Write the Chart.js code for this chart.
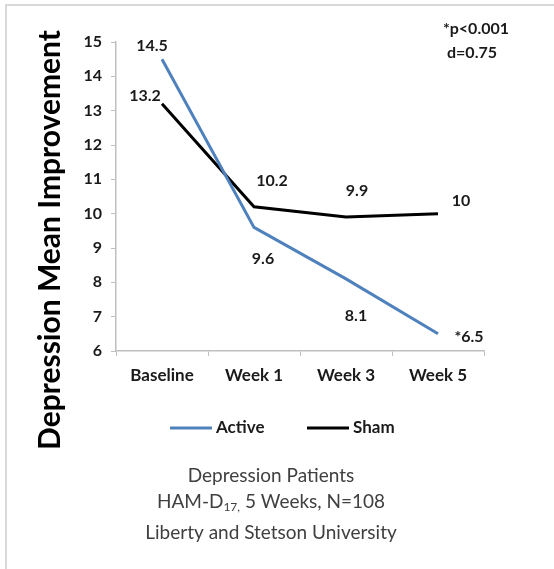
<!DOCTYPE html>
<html>
<head>
<meta charset="utf-8">
<script src="https://cdn.jsdelivr.net/npm/chart.js@4.4.1/dist/chart.umd.min.js"></script>
<style>
  html, body { margin: 0; padding: 0; background: #fff; }
  #wrap { width: 554px; height: 569px; }
</style>
</head>
<body>
<div id="wrap"><canvas id="chart" width="554" height="569"></canvas></div>
<script>
// data
const weeks = ["Baseline", "Week 1", "Week 3", "Week 5"];
const activeScores = [14.5, 9.6, 8.1, 6.5];
const shamScores = [13.2, 10.2, 9.9, 10];
const activeLabels = ["14.5", "9.6", "8.1", "*6.5"];
const shamLabels = ["13.2", "10.2", "9.9", "10"];
const yTicks = [6, 7, 8, 9, 10, 11, 12, 13, 14, 15];
const captionLines = ["Depression Patients", "HAM-D17, 5 Weeks, N=108", "Liberty and Stetson University"];
const statNotes = ["*p<0.001", "d=0.75"];

const FONT = "Lato, 'Open Sans', sans-serif";
const blue = "#4f81bd";

// where each value label sits relative to its point
const activeOffsets = [[-10, -13], [9, 31], [10, 37], [31, 3]];
const shamOffsets = [[-17, -8], [18, -26], [11, -26], [23, -13]];

const extras = {
  id: "extras",
  beforeDraw(chart) {
    const ctx = chart.ctx;
    ctx.save();
    ctx.strokeStyle = "#d9d9d9";
    ctx.lineWidth = 2;
    ctx.strokeRect(6, 5, 600, 620);
    ctx.restore();
  },
  afterDatasetsDraw(chart) {
    const ctx = chart.ctx;
    ctx.save();
    ctx.fillStyle = "#1a1a1a";
    ctx.font = "bold 16px " + FONT;
    ctx.textAlign = "center";
    ctx.textBaseline = "middle";
    const sets = [[0, activeLabels, activeOffsets], [1, shamLabels, shamOffsets]];
    sets.forEach(([i, labels, offs]) => {
      chart.getDatasetMeta(i).data.forEach((pt, j) => {
        ctx.fillText(labels[j], pt.x + offs[j][0], pt.y + offs[j][1]);
      });
    });

    // stats note top right
    ctx.fillText(statNotes[0], 476, 29);
    ctx.fillText(statNotes[1], 472, 53);

    // y title
    ctx.save();
    ctx.translate(50, 240);
    ctx.rotate(-Math.PI / 2);
    ctx.font = "bold 30px " + FONT;
    ctx.fillStyle = "#000";
    ctx.fillText("Depression Mean Improvement", 0, 0);
    ctx.restore();

    // legend
    ctx.font = "bold 17px " + FONT;
    ctx.textAlign = "left";
    const items = [[170, chart.data.datasets[0]], [307, chart.data.datasets[1]]];
    items.forEach(([x, ds]) => {
      ctx.strokeStyle = ds.borderColor;
      ctx.lineWidth = 3;
      ctx.beginPath();
      ctx.moveTo(x, 428);
      ctx.lineTo(x + 42, 428);
      ctx.stroke();
      ctx.fillStyle = "#1a1a1a";
      ctx.fillText(ds.label, x + 46, 428);
    });

    // caption
    ctx.fillStyle = "#404040";
    ctx.textAlign = "center";
    ctx.font = "19px " + FONT;
    ctx.fillText(captionLines[0], 271, 476);
    ctx.fillText(captionLines[2], 271, 533);
    // HAM-D with subscript 17,
    const parts = captionLines[1].split("17,");
    ctx.font = "19px " + FONT;
    const w0 = ctx.measureText(parts[0]).width;
    const w2 = ctx.measureText(parts[1]).width;
    ctx.font = "12px " + FONT;
    const w1 = ctx.measureText("17,").width;
    let x = 271 - (w0 + w1 + w2) / 2;
    ctx.textAlign = "left";
    ctx.font = "19px " + FONT;
    ctx.fillText(parts[0], x, 502);
    ctx.font = "12px " + FONT;
    ctx.fillText("17,", x + w0, 507);
    ctx.font = "19px " + FONT;
    ctx.fillText(parts[1], x + w0 + w1, 502);
    ctx.restore();
  }
};

new Chart(document.getElementById("chart"), {
  type: "line",
  data: {
    labels: weeks,
    datasets: [
      {
        label: "Active",
        data: activeScores,
        borderColor: blue,
        borderWidth: 3,
        pointRadius: 0,
        tension: 0,
      },
      {
        label: "Sham",
        data: shamScores,
        borderColor: "#000000",
        borderWidth: 3,
        pointRadius: 0,
        tension: 0,
      },
    ],
  },
  options: {
    responsive: false,
    animation: false,
    events: [],
    layout: { padding: { left: 0, top: 42, right: 70, bottom: 178 } },
    plugins: {
      legend: { display: false },
      tooltip: { enabled: false },
    },
    scales: {
      x: {
        offset: true,
        grid: { offset: true, drawOnChartArea: false, tickLength: 5, color: "#bfbfbf" },
        border: { color: "#bfbfbf", width: 1.5 },
        ticks: { color: "#1a1a1a", font: { family: FONT, size: 17, weight: "bold" }, padding: 9 },
        afterFit: (s) => { s.height = 40; },
      },
      y: {
        min: 6,
        max: 15,
        afterBuildTicks: (s) => { s.ticks = yTicks.map((v) => ({ value: v })); },
        grid: { drawOnChartArea: false, tickLength: 5, color: "#bfbfbf" },
        border: { color: "#bfbfbf", width: 1.5 },
        ticks: { color: "#1a1a1a", font: { family: FONT, size: 16, weight: "bold" }, padding: 9 },
        afterFit: (s) => { s.width = 116; },
      },
    },
  },
  plugins: [extras],
});
</script>
</body>
</html>
